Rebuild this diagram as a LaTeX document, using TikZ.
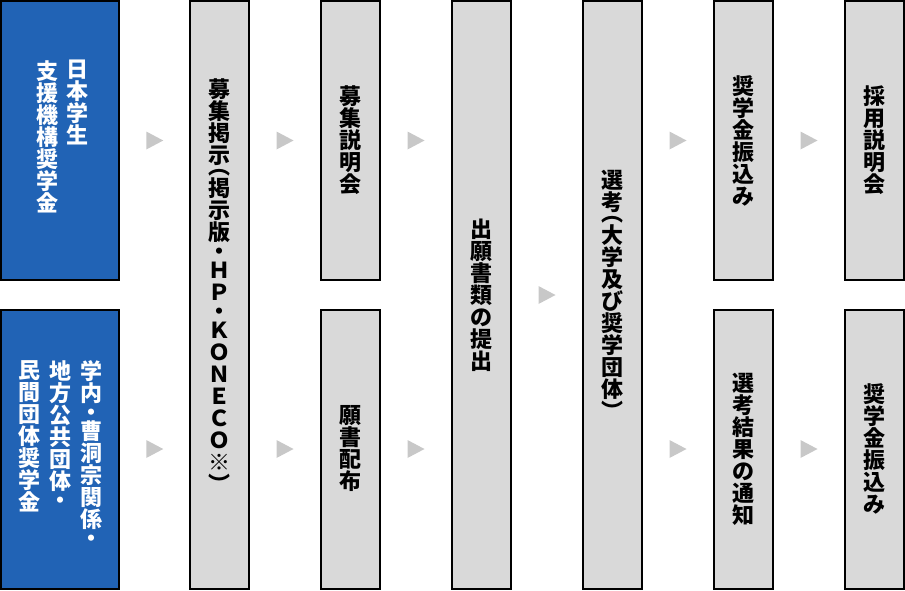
\documentclass[tikz,border=0pt]{standalone}
\usepackage{fontspec}
\newfontfamily\jp{Noto Sans CJK JP}
\usetikzlibrary{calc}
\definecolor{jblue}{HTML}{2163B5}
\definecolor{boxgray}{HTML}{D9D9D9}
\definecolor{trigray}{HTML}{C8C8C8}
\tikzset{
	box/.style={draw=black,line width=2pt,inner sep=0pt},
	bluebox/.style={box,fill=jblue,minimum width=118,minimum height=279},
	graybox/.style={box,fill=boxgray,minimum width=59,minimum height=279},
	tall/.style={minimum height=588},
	tate/.style={align=center,inner sep=0pt,font=\jp\bfseries\fontsize{22}{22}\selectfont},
	tri/.style={fill=trigray}
}
\begin{document}
\begin{tikzpicture}[x=1pt,y=-1pt]
			\useasboundingbox (0,0) rectangle (905,590);
			% 奨学金の種類 (青)
			\node[bluebox] (jasso) at (60,140.5) {};
			\node[bluebox] (minkan) at (60,449) {};
			\node[tate,text=white,anchor=north] (jasso-r) at (77,60) {日\\本\\学\\生};
			\node[tate,text=white,anchor=north] (jasso-l) at (47.5,60) {支\\援\\機\\構\\奨\\学\\金};
			\node[tate,text=white,anchor=north] (minkan-r) at (91,360) {学\\内\\[-3pt]・\\[-3pt]曹\\洞\\宗\\関\\係\\[-3pt]・};
			\node[tate,text=white,anchor=north] (minkan-m) at (60.5,360) {地\\方\\公\\共\\団\\体\\[-3pt]・};
			\node[tate,text=white,anchor=north] (minkan-l) at (30,360) {民\\間\\団\\体\\奨\\学\\金};
			% 手続きの流れ (灰)
			\node[graybox,tall] (keiji) at (219,295) {};
			\node[tate,anchor=north] (keiji-t) at (219,78) {募\\集\\掲\\示\\[-11pt]︵\\掲\\示\\版\\[-3pt]・\\[-3pt]Ｈ\\Ｐ\\[-3pt]・\\[-3pt]Ｋ\\Ｏ\\Ｎ\\Ｅ\\Ｃ\\Ｏ\\※\\︶};
			\node[graybox,tate] (setsumei) at (350,140.5) {募\\集\\説\\明\\会};
			\node[graybox,tate] (haifu) at (350,449) {願\\書\\配\\布};
			\node[graybox,tall,tate] (teishutsu) at (481,295) {出\\願\\書\\類\\の\\提\\出};
			\node[graybox,tall,tate] (senko) at (612,295) {選\\考\\[-11pt]︵\\大\\学\\及\\び\\奨\\学\\団\\体\\︶};
			\node[graybox,tate] (furikomi) at (743,140.5) {奨\\学\\金\\振\\込\\み};
			\node[graybox,tate] (tsuchi) at (743,449) {選\\考\\結\\果\\の\\通\\知};
			\node[graybox,tate] (saiyo) at (874,140.5) {採\\用\\説\\明\\会};
			\node[graybox,tate] (kyufu) at (874,449) {奨\\学\\金\\振\\込\\み};
			% 三角の矢印: 左の箱, 右の箱, 高さを決める箱
			\foreach \p/\q/\h in {jasso/keiji/jasso,minkan/keiji/minkan,keiji/setsumei/setsumei,keiji/haifu/haifu,
				setsumei/teishutsu/setsumei,haifu/teishutsu/haifu,teishutsu/senko/senko,
				senko/furikomi/furikomi,senko/tsuchi/tsuchi,furikomi/saiyo/saiyo,tsuchi/kyufu/kyufu}{
				\coordinate (m) at ($(\p.east)!0.5!(\q.west)$);
				\fill[tri] (m |- \h.east) +(-8,-9) -- +(-8,9) -- +(9,0) -- cycle;
			}
\end{tikzpicture}
\end{document}
